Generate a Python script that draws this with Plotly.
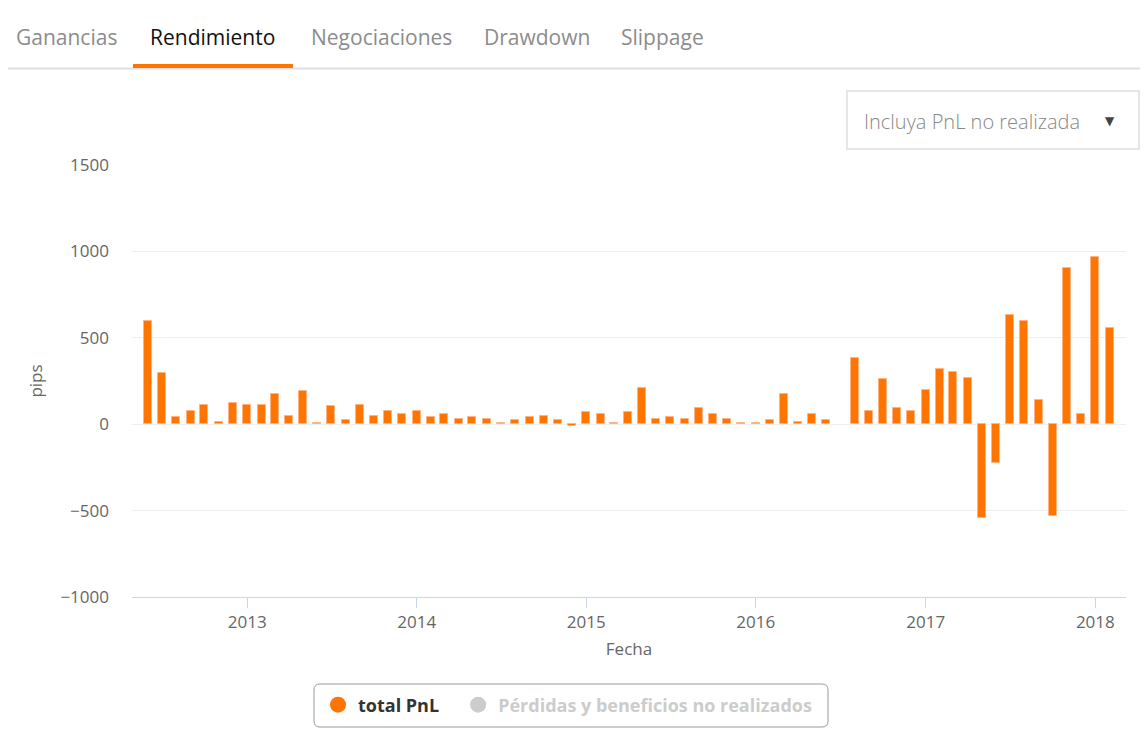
import plotly.graph_objects as go

# ---- data ----
months = [
    "2012-06-01", "2012-07-01", "2012-08-01", "2012-09-01", "2012-10-01", "2012-11-01", "2012-12-01",
    "2013-01-01", "2013-02-01", "2013-03-01", "2013-04-01", "2013-05-01", "2013-06-01",
    "2013-07-01", "2013-08-01", "2013-09-01", "2013-10-01", "2013-11-01", "2013-12-01",
    "2014-01-01", "2014-02-01", "2014-03-01", "2014-04-01", "2014-05-01", "2014-06-01",
    "2014-07-01", "2014-08-01", "2014-09-01", "2014-10-01", "2014-11-01", "2014-12-01",
    "2015-01-01", "2015-02-01", "2015-03-01", "2015-04-01", "2015-05-01", "2015-06-01",
    "2015-07-01", "2015-08-01", "2015-09-01", "2015-10-01", "2015-11-01", "2015-12-01",
    "2016-01-01", "2016-02-01", "2016-03-01", "2016-04-01", "2016-05-01", "2016-06-01",
    "2016-08-01", "2016-09-01", "2016-10-01", "2016-11-01", "2016-12-01",
    "2017-01-01", "2017-02-01", "2017-03-01", "2017-04-01", "2017-05-01", "2017-06-01",
    "2017-07-01", "2017-08-01", "2017-09-01", "2017-10-01", "2017-11-01", "2017-12-01",
    "2018-01-01", "2018-02-01",
]
total_pnl = [
    600, 295, 41, 76, 110, 14, 120,
    110, 110, 173, 50, 190, 8, 103, 23, 110, 50, 76, 58,
    76, 41, 58, 33, 41, 33, 8, 23, 41, 50, 23, -10,
    68, 58, 8, 68, 207, 33, 41, 33, 93, 58, 33, 6,
    6, 23, 173, 13, 58, 23, 382, 76, 260, 93, 76,
    198, 320, 302, 267, -540, -226, 634, 599, 138, -531, 905, 58,
    965, 556,
]
year_ticks = ["2013-01-01", "2014-01-01", "2015-01-01", "2016-01-01", "2017-01-01", "2018-01-01"]
year_labels = ["2013", "2014", "2015", "2016", "2017", "2018"]
y_ticks = [-1000, -500, 0, 500, 1000, 1500]
tabs = ["Ganancias", "Rendimiento", "Negociaciones", "Drawdown", "Slippage"]
series_names = ["total PnL", "Pérdidas y beneficios no realizados"]

ORANGE = "#FF7500"
FONT = "Open Sans"

# page has an 8px body margin; work in page pixel coordinates
OFF = 8
W, H = 1148 - OFF, 736 - OFF
L, R, T, B = 132, 1126, 165, 597   # plot area in page pixels


def px(x):
    return (x - L) / (R - L)


def py(y):
    return (B - y) / (B - T)


fig = go.Figure()
fig.add_trace(go.Bar(
    x=months, y=total_pnl, name=series_names[0],
    marker=dict(color=ORANGE, line=dict(color="#ffb380", width=1)),
    width=17.2 * 86400000, showlegend=False,
))
fig.add_trace(go.Scatter(
    x=[None], y=[None], mode="markers",
    name="<b>" + series_names[0] + "</b>" + "\u00a0" * 3,
    marker=dict(color=ORANGE, size=16, symbol="circle"),
))
fig.add_trace(go.Scatter(
    x=[None], y=[None], mode="markers",
    name="<b><span style='color:#cccccc'>" + series_names[1] + "</span></b>",
    marker=dict(color="#cccccc", size=16, symbol="circle"),
))

shapes = []
annotations = []

# tabs
tab_left = [14, 148, 309, 482, 619]
for i, t in enumerate(tabs):
    active = i == 1
    annotations.append(dict(
        xref="paper", yref="paper", x=px(tab_left[i]), y=py(37), xanchor="left", yanchor="middle",
        text=t, showarrow=False,
        font=dict(family=FONT, size=21, color="#111111" if active else "#8c8c8c",
                  weight=500 if active else 400),
    ))
shapes.append(dict(type="line", xref="paper", yref="paper", x0=px(OFF), x1=px(1140), y0=py(68.5), y1=py(68.5),
                   line=dict(color="#dcdfe6", width=2)))
shapes.append(dict(type="rect", xref="paper", yref="paper", x0=px(133), x1=px(293), y0=py(64), y1=py(68),
                   line=dict(width=0), fillcolor=ORANGE))

# dropdown
shapes.append(dict(type="rect", xref="paper", yref="paper", x0=px(847), x1=px(1139), y0=py(91), y1=py(149),
                   line=dict(color="#e6e6e6", width=2), fillcolor="white"))
annotations.append(dict(xref="paper", yref="paper", x=px(862), y=py(121), xanchor="left", yanchor="middle",
                        text="Incluya PnL no realizada", showarrow=False,
                        font=dict(family=FONT, size=20, color="#888888", weight=300)))
annotations.append(dict(xref="paper", yref="paper", x=px(1110), y=py(121), xanchor="center", yanchor="middle",
                        text="▼", showarrow=False, font=dict(family="DejaVu Sans", size=12, color="#444444")))

# legend rounded box
x0, x1, y0, y1, r = px(314), px(828), py(684), py(727), 6
rx, ry = r / (R - L), r / (B - T)
path = (f"M {x0+rx},{y0} L {x1-rx},{y0} Q {x1},{y0} {x1},{y0-ry} L {x1},{y1+ry} Q {x1},{y1} {x1-rx},{y1} "
        f"L {x0+rx},{y1} Q {x0},{y1} {x0},{y1+ry} L {x0},{y0-ry} Q {x0},{y0} {x0+rx},{y0} Z")
shapes.append(dict(type="path", xref="paper", yref="paper", path=path, line=dict(color="#999999", width=1)))

fig.update_layout(
    width=W, height=H,
    margin=dict(l=L - OFF, r=1148 - R, t=T - OFF, b=736 - B, pad=0),
    paper_bgcolor="white", plot_bgcolor="white",
    font=dict(family=FONT, color="#666666"),
    bargap=0,
    shapes=shapes, annotations=annotations,
    showlegend=True,
    legend=dict(orientation="h", x=px(318), xanchor="left", y=py(705), yanchor="middle",
                font=dict(family=FONT, size=18, color="#333333"), bgcolor="rgba(0,0,0,0)",
                borderwidth=0, itemclick=False, itemdoubleclick=False, tracegroupgap=0),
    xaxis=dict(
        type="date", range=["2012-04-28", "2018-03-08"],
        tickvals=year_ticks, ticktext=year_labels,
        ticks="outside", ticklen=10, tickcolor="#ccd6eb", tickwidth=1,
        showline=True, linecolor="#ccd6eb", linewidth=1,
        showgrid=False, zeroline=False,
        tickfont=dict(family=FONT, size=17, color="#666666"),
        title=dict(text="Fecha", font=dict(family=FONT, size=17, color="#666666"), standoff=10),
    ),
    yaxis=dict(
        range=[-1000, 1500], tickvals=y_ticks,
        showgrid=True, gridcolor="#efefef", gridwidth=1, zeroline=False,
        showline=False, ticks="", ticklabelstandoff=22,
        tickfont=dict(family=FONT, size=17, color="#666666"),
        title=dict(text="pips", font=dict(family=FONT, size=17, color="#666666"), standoff=13),
    ),
)

fig.write_html("out.html")
